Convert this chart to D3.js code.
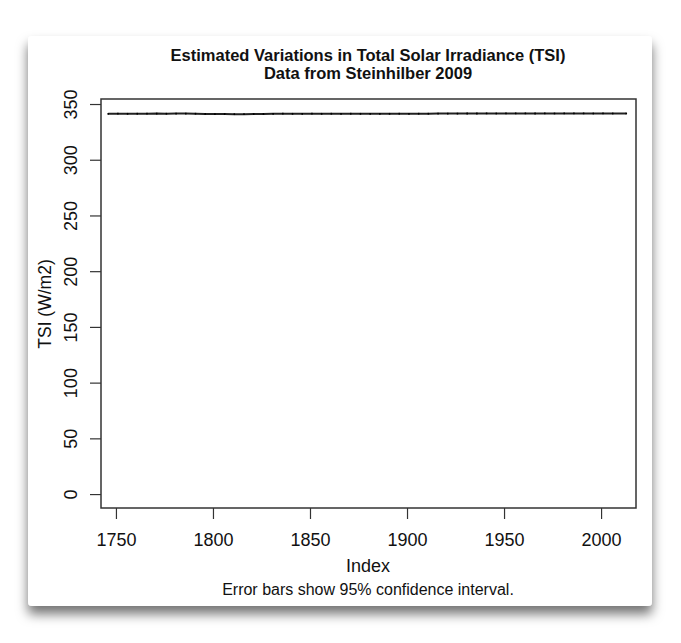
<!DOCTYPE html>
<html>
<head>
<meta charset="utf-8">
<script src="https://cdn.jsdelivr.net/npm/d3@7"></script>
<style>
  html, body { margin: 0; padding: 0; background: #ffffff; }
  svg { display: block; }
  text { font-family: "Liberation Sans", Arial, sans-serif; fill: #111; }
</style>
</head>
<body>
<svg id="chart" width="681" height="643"></svg>
<script>
// ---- data ----
const years = [1746, 1751, 1756, 1761, 1766, 1771, 1776, 1781, 1786, 1791,
               1796, 1801, 1806, 1811, 1816, 1821, 1826, 1831, 1836, 1841,
               1846, 1851, 1856, 1861, 1866, 1871, 1876, 1881, 1886, 1891,
               1896, 1901, 1906, 1911, 1916, 1921, 1926, 1931, 1936, 1941,
               1946, 1951, 1956, 1961, 1966, 1971, 1976, 1981, 1986, 1991,
               1996, 2001, 2006, 2013];
const tsi = [341.2, 341.3, 341.2, 341.3, 341.3, 341.4, 341.3, 341.4, 341.4, 341.3,
             341.1, 341.0, 341.0, 340.9, 340.9, 341.0, 341.1, 341.2, 341.3, 341.2,
             341.2, 341.3, 341.2, 341.3, 341.2, 341.3, 341.2, 341.2, 341.2, 341.2,
             341.3, 341.2, 341.3, 341.3, 341.4, 341.4, 341.4, 341.5, 341.5, 341.6,
             341.5, 341.6, 341.6, 341.6, 341.5, 341.6, 341.5, 341.6, 341.6, 341.6,
             341.5, 341.6, 341.5, 341.5];
const err = 0.8;
const xTicks = [1750, 1800, 1850, 1900, 1950, 2000];
const yTicks = [0, 50, 100, 150, 200, 250, 300, 350];
const titleLines = ["Estimated Variations in Total Solar Irradiance (TSI)", "Data from Steinhilber 2009"];
const xLabel = "Index";
const yLabel = "TSI (W/m2)";
const caption = "Error bars show 95% confidence interval.";

const data = years.map((y, i) => ({ year: y, v: tsi[i] }));

const svg = d3.select("#chart");

// card with shadow
const defs = svg.append("defs");
const f = defs.append("filter").attr("id", "shadow")
  .attr("x", "-10%").attr("y", "-10%").attr("width", "120%").attr("height", "125%");
f.append("feDropShadow").attr("dx", 0).attr("dy", 8).attr("stdDeviation", 6)
  .attr("flood-color", "#000").attr("flood-opacity", 0.55);

svg.append("rect")
  .attr("x", 28).attr("y", 36).attr("width", 624).attr("height", 570)
  .attr("rx", 4).attr("fill", "#fff").attr("filter", "url(#shadow)");

const box = { left: 101, right: 636, top: 99, bottom: 508 };

const x = d3.scaleLinear().domain([1742.3, 2018.0]).range([box.left, box.right]);
const y = d3.scaleLinear().domain([-12.5, 354.5]).range([box.bottom, box.top]);

// title
svg.append("text").attr("x", 368).attr("y", 61).attr("text-anchor", "middle")
  .attr("font-size", 16.5).attr("font-weight", "bold").text(titleLines[0]);
svg.append("text").attr("x", 368).attr("y", 79).attr("text-anchor", "middle")
  .attr("font-size", 16.5).attr("font-weight", "bold").text(titleLines[1]);

// x axis
const xAxis = svg.append("g").attr("transform", `translate(0,${box.bottom})`)
  .call(d3.axisBottom(x).tickValues(xTicks).tickFormat(d3.format("d")).tickSize(11))
  .call(g => g.select(".domain").remove());
xAxis.selectAll(".tick line").attr("stroke", "#333").attr("stroke-width", 1.2);
xAxis.selectAll(".tick text").attr("font-size", 18).attr("fill", "#111")
  .attr("font-family", "Liberation Sans, Arial, sans-serif")
  .attr("y", 38).attr("dy", null);

// y axis
const yAxis = svg.append("g").attr("transform", `translate(${box.left},0)`)
  .call(d3.axisLeft(y).tickValues(yTicks).tickSize(11).tickFormat(d3.format("d")))
  .call(g => g.select(".domain").remove());
yAxis.selectAll(".tick line").attr("stroke", "#333").attr("stroke-width", 1.2);
yAxis.selectAll(".tick text")
  .attr("font-size", 18).attr("fill", "#111")
  .attr("font-family", "Liberation Sans, Arial, sans-serif")
  .attr("text-anchor", "middle").attr("dy", null)
  .attr("x", 0).attr("y", 0)
  .attr("transform", "translate(-30,0) rotate(-90)")
  .attr("dominant-baseline", "central");

// plot box
svg.append("rect")
  .attr("x", box.left).attr("y", box.top)
  .attr("width", box.right - box.left).attr("height", box.bottom - box.top)
  .attr("fill", "none").attr("stroke", "#333").attr("stroke-width", 1.5);

// line
svg.append("path").datum(data)
  .attr("fill", "none").attr("stroke", "#222").attr("stroke-width", 2)
  .attr("d", d3.line().x(d => x(d.year)).y(d => y(d.v)));

// error bars
svg.append("g").selectAll("line").data(data).join("line")
  .attr("x1", d => x(d.year)).attr("x2", d => x(d.year))
  .attr("y1", d => y(d.v - err)).attr("y2", d => y(d.v + err))
  .attr("stroke", "#000").attr("stroke-width", 1.5);

// labels
svg.append("text").attr("x", 368).attr("y", 572).attr("text-anchor", "middle")
  .attr("font-size", 18).text(xLabel);
svg.append("text").attr("transform", "translate(51,304) rotate(-90)")
  .attr("text-anchor", "middle").attr("font-size", 17.5).text(yLabel);
svg.append("text").attr("x", 368).attr("y", 595).attr("text-anchor", "middle")
  .attr("font-size", 16).text(caption);
</script>
</body>
</html>
